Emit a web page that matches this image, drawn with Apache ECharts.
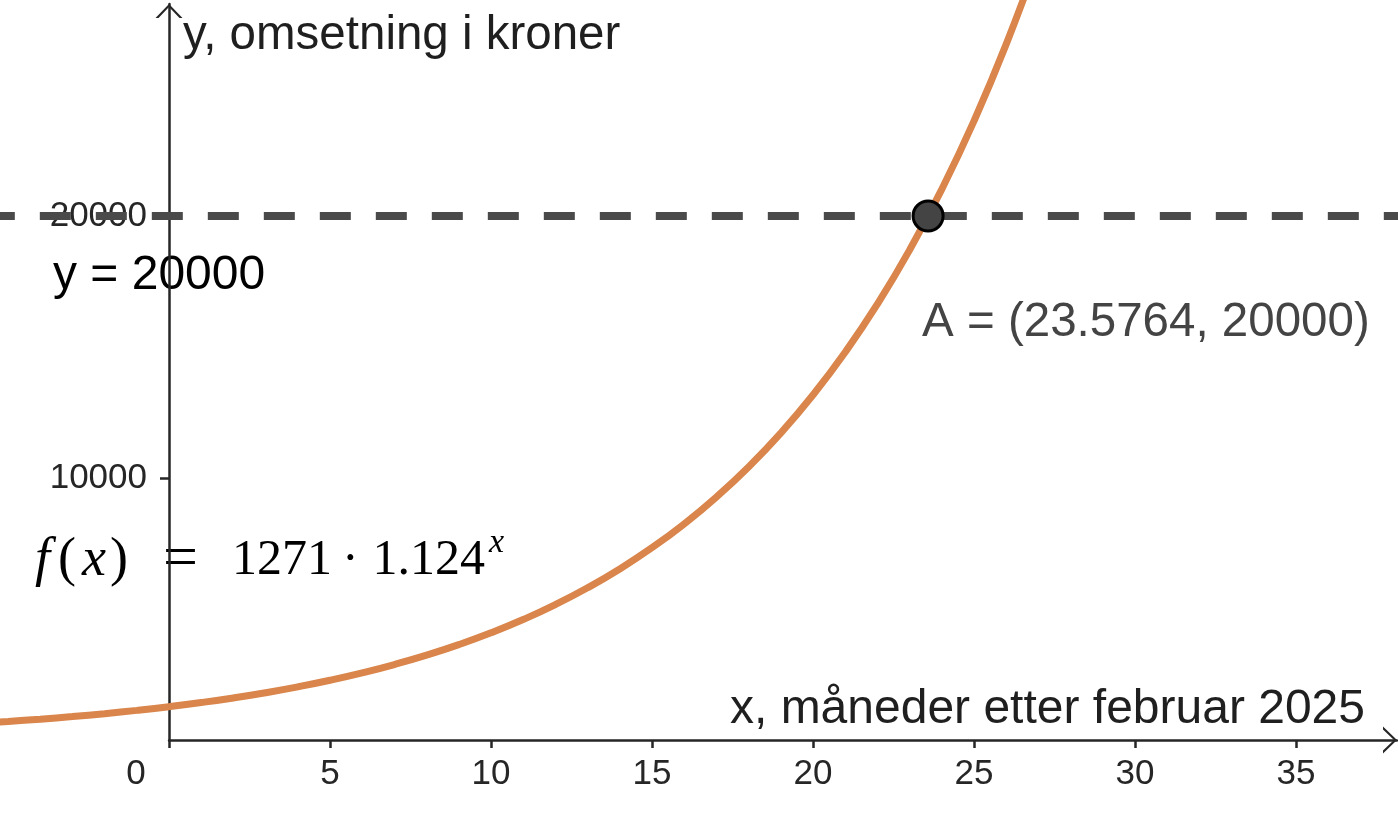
<!DOCTYPE html>
<html><head><meta charset="utf-8">
<script src="https://cdn.jsdelivr.net/npm/echarts@6/dist/echarts.min.js"></script>
<style>html,body{margin:0;padding:0;background:#fff}#c{width:1398px;height:813px}</style>
</head><body><div id="c"></div>
<script>
// Curve f(x) = 1271 * 1.124^x, values read at whole months
const xValues = [-6,-5,-4,-3,-2,-1,0,1,2,3,4,5,6,7,8,9,10,11,12,13,14,15,16,17,18,19,20,21,22,23,24,25,26,27];
const fValues = [630,708,796,895,1006,1131,1271,1429,1606,1805,2029,2280,2563,2881,3238,3640,4091,4598,5168,5809,6529,7339,8249,9272,10422,11714,13167,14799,16634,18697,21016,23621,26550,29843];
const xTickValues = [0,5,10,15,20,25,30,35];
const yTickValues = [10000,20000];
const hLineX = [-6, 40];
const hLineY = 20000;
const pointA = [23.5764, 20000];
const xTitle = 'x, måneder etter februar 2025';
const yTitle = 'y, omsetning i kroner';

const curveData = xValues.map((x, i) => [x, fValues[i]]);
const hLineData = hLineX.map(x => [x, hLineY]);

const chart = echarts.init(document.getElementById('c'));
const axisColor = '#262626';
const sans = '"Liberation Sans", Arial, sans-serif';
const serif = '"Liberation Serif", "Times New Roman", serif';
const chevron = 'path://M0,14 L13.5,0 L27,14 L24,14 L13.5,3 L3,14 Z';
const fColor = '#c55a11';

const X_MAX = 38.14, Y_MAX = 28092;
const PX_PER_X = 1228 / X_MAX;            // visible axis scale
const X_MIN_FULL = X_MAX - 1397 / PX_PER_X; // same scale over the whole width

const hidden = { show: false };

chart.setOption({
  animation: false,
  textStyle: { fontFamily: sans },
  grid: [
    { left: 0, right: 1, top: 4, bottom: 73 },     // plotting area (whole view)
    { left: 169, right: 1, top: 4, bottom: 73 }    // axes from the origin
  ],
  xAxis: [
    { type: 'value', gridIndex: 0, min: X_MIN_FULL, max: X_MAX,
      axisLine: hidden, axisTick: hidden, axisLabel: hidden, splitLine: hidden },
    {
      type: 'value', gridIndex: 1, min: 0, max: X_MAX,
      splitLine: { show: false },
      axisLine: { show: true, onZero: false, lineStyle: { color: axisColor, width: 2.5 },
        symbol: ['none', chevron], symbolSize: [27, 14], symbolOffset: [0, -7] },
      axisTick: { show: true, length: 8, lineStyle: { color: axisColor, width: 2.5 }, customValues: xTickValues },
      axisLabel: { fontSize: 35, color: axisColor, margin: 17, customValues: xTickValues,
        formatter: v => v === 0 ? '{z|0}' : String(v),
        rich: { z: { fontSize: 35, color: axisColor, padding: [0, 66, 0, 0] } } }
    }
  ],
  yAxis: [
    { type: 'value', gridIndex: 0, min: 0, max: Y_MAX,
      axisLine: hidden, axisTick: hidden, axisLabel: hidden, splitLine: hidden },
    {
      type: 'value', gridIndex: 1, min: 0, max: Y_MAX,
      splitLine: { show: false },
      axisLine: { show: true, onZero: false, lineStyle: { color: axisColor, width: 2.5 },
        symbol: ['none', chevron], symbolSize: [27, 14], symbolOffset: [0, -7] },
      axisTick: { show: true, length: 9, lineStyle: { color: axisColor, width: 2.5 }, customValues: yTickValues },
      axisLabel: { fontSize: 35, color: axisColor, margin: 22, customValues: yTickValues,
        formatter: v => String(v) }
    }
  ],
  series: [
    {
      type: 'line', xAxisIndex: 0, yAxisIndex: 0, data: hLineData, clip: false, showSymbol: false, silent: true, z: 3,
      lineStyle: { color: '#4a4a4a', width: 8, type: [31, 25], dashOffset: 48 }
    },
    {
      type: 'line', xAxisIndex: 0, yAxisIndex: 0, data: curveData, clip: false, smooth: true, showSymbol: false, silent: true, z: 4,
      lineStyle: { color: '#d9854b', width: 7 }
    },
    {
      type: 'scatter', xAxisIndex: 0, yAxisIndex: 0, data: [pointA], symbol: 'circle', symbolSize: 30, z: 5, silent: true,
      itemStyle: { color: '#444444', borderColor: '#000', borderWidth: 3, opacity: 1 },
      label: { show: true, position: 'inside', offset: [-6, 107], align: 'left', verticalAlign: 'middle',
        fontSize: 47.5, color: '#444444', fontFamily: sans,
        formatter: () => `A = (${pointA[0]}, ${pointA[1]})` }
    }
  ],
  graphic: [
    { type: 'text', x: 183, y: 36, silent: true,
      style: { text: yTitle, fill: '#1f1f1f', font: '47.5px ' + sans, textAlign: 'left', textVerticalAlign: 'middle' } },
    { type: 'text', x: 1365, y: 710, silent: true,
      style: { text: xTitle, fill: '#1f1f1f', font: '48px ' + sans, textAlign: 'right', textVerticalAlign: 'middle' } },
    { type: 'text', x: 53, y: 276, silent: true,
      style: { text: `y = ${hLineY}`, fill: '#000', font: '48px ' + sans, textAlign: 'left', textVerticalAlign: 'middle' } },
    { type: 'text', x: 35, y: 561, silent: true,
      style: {
        text: '{fi|f}{p1|(}{xi|x}{p2|)}{eq|=}{n1|1271}{d|·}{n2|1.124}{s|x}',
        textAlign: 'left', textVerticalAlign: 'middle',
        rich: {
          fi: { fontFamily: serif, fontStyle: 'italic', fontSize: 54, lineHeight: 70, color: fColor, padding: [0, 8, 0, 0] },
          p1: { fontFamily: serif, fontSize: 54, lineHeight: 70, color: fColor, padding: [0, 6, 0, 0] },
          xi: { fontFamily: serif, fontStyle: 'italic', fontSize: 54, lineHeight: 70, color: fColor, padding: [0, 4, 0, 0] },
          p2: { fontFamily: serif, fontSize: 54, lineHeight: 70, color: fColor },
          eq: { fontFamily: serif, fontSize: 62, lineHeight: 70, color: fColor, padding: [0, 34, 0, 35] },
          n1: { fontFamily: serif, fontSize: 50, lineHeight: 70, color: fColor, padding: [0, 10, 0, 0] },
          d: { fontFamily: serif, fontSize: 50, lineHeight: 70, color: fColor, padding: [0, 14, 0, 0] },
          n2: { fontFamily: serif, fontSize: 50, lineHeight: 70, color: fColor, padding: [0, 4, 0, 0] },
          s: { fontFamily: serif, fontStyle: 'italic', fontSize: 34, lineHeight: 30, color: fColor, verticalAlign: 'top' }
        }
      } }
  ]
});
</script>
</body></html>
